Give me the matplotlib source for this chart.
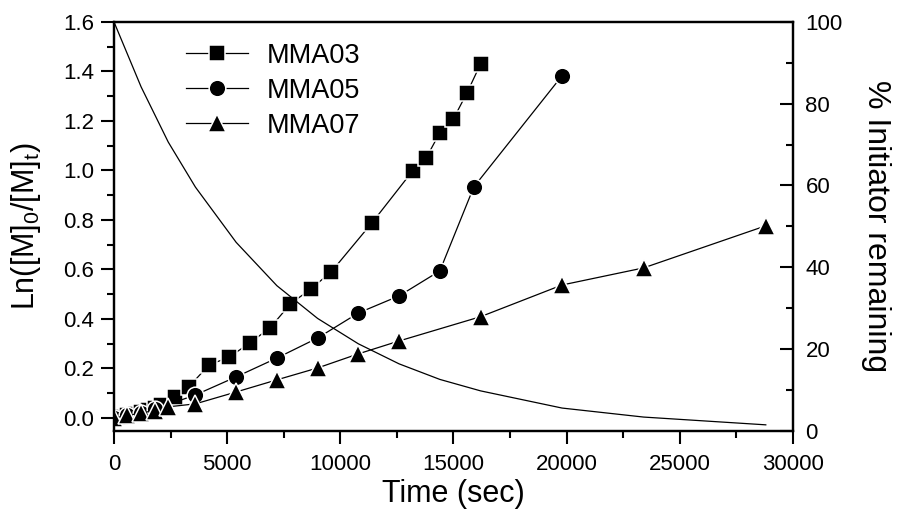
import matplotlib
matplotlib.use("Agg")
import matplotlib.pyplot as plt
from matplotlib.ticker import MultipleLocator

plt.rcParams["font.family"] = ["Liberation Sans", "DejaVu Sans"]

# MMA03
time03 = [0, 300, 600, 900, 1200, 1500, 1800, 2100, 2700, 3300, 4200, 5100, 6000, 6900,
          7800, 8700, 9600, 11400, 13200, 13800, 14400, 15000, 15600, 16200]
ln03 = [0, 0.005, 0.01, 0.018, 0.025, 0.033, 0.042, 0.053, 0.085, 0.125, 0.214, 0.246,
        0.303, 0.364, 0.461, 0.521, 0.590, 0.788, 0.998, 1.051, 1.152, 1.208, 1.313, 1.430]

# MMA05
time05 = [0, 600, 1200, 1800, 3600, 5400, 7200, 9000, 10800, 12600, 14400, 15900, 19800]
ln05 = [0, 0.01, 0.02, 0.035, 0.093, 0.166, 0.242, 0.323, 0.424, 0.493, 0.594, 0.933, 1.382]

# MMA07
time07 = [0, 600, 1200, 1800, 2400, 3600, 5400, 7200, 9000, 10800, 12600, 16200, 19800,
          23400, 28800]
ln07 = [0, 0.01, 0.02, 0.03, 0.045, 0.057, 0.105, 0.154, 0.202, 0.259, 0.311, 0.409,
        0.537, 0.606, 0.776]

# initiator remaining (%)
time_init = [0, 1200, 2400, 3600, 5400, 7200, 9000, 10800, 12600, 14400, 16200, 19800,
             23400, 28800]
pct_init = [100, 84.1, 70.6, 59.6, 46.1, 35.5, 27.5, 21.3, 16.4, 12.6, 9.8, 5.6, 3.4, 1.5]

fig = plt.figure(figsize=(8.97, 5.18), dpi=100)
ax = fig.add_axes([0.127, 0.168, 0.757, 0.79])

style = dict(color="black", lw=0.9, mec="white", mew=1.1, mfc="black")
ax.plot(time03, ln03, marker="s", ms=11, label="MMA03", **style)
ax.plot(time05, ln05, marker="o", ms=12, label="MMA05", **style)
ax.plot(time07, ln07, marker="^", ms=13, label="MMA07", **style)

ax.set_xlim(0, 30000)
ax.set_ylim(-0.0525, 1.6)
ax.xaxis.set_major_locator(MultipleLocator(5000))
ax.xaxis.set_minor_locator(MultipleLocator(2500))
ax.yaxis.set_major_locator(MultipleLocator(0.2))
ax.yaxis.set_minor_locator(MultipleLocator(0.1))
ax.yaxis.set_major_formatter(plt.FuncFormatter(lambda v, p: f"{v:.1f}"))
ax.tick_params(which="both", direction="out", width=1.5, labelsize=16, top=False, right=False)
ax.tick_params(which="major", length=9.5)
ax.tick_params(which="minor", length=5)
ax.tick_params(axis="x", which="major", pad=7)
ax.tick_params(axis="y", which="major", pad=5)
ax.set_xlabel("Time (sec)", fontsize=22, labelpad=3)
ax.set_ylabel(r"Ln([M]$\mathregular{_0}$/[M]$\mathregular{_t}$)", fontsize=22, labelpad=14)
for sp in ax.spines.values():
    sp.set_linewidth(1.6)

ax2 = ax.twinx()
ax2.plot(time_init, pct_init, color="black", lw=0.9)
ax2.set_ylim(0, 100)
ax2.yaxis.set_major_locator(MultipleLocator(20))
ax2.yaxis.set_minor_locator(MultipleLocator(10))
ax2.tick_params(which="both", direction="in", width=1.5, labelsize=16, pad=9)
ax2.tick_params(which="major", length=9.5)
ax2.tick_params(which="minor", length=5)
ax2.set_ylabel("% Initiator remaining", fontsize=23, rotation=270, labelpad=35)
for sp in ax2.spines.values():
    sp.set_linewidth(1.6)

ax.legend(loc="upper left", bbox_to_anchor=(0.09, 0.975), frameon=False, fontsize=19.5,
          handlelength=2.3, handletextpad=0.7, labelspacing=0.33, borderaxespad=0)

fig.savefig("out.png", dpi=100)
